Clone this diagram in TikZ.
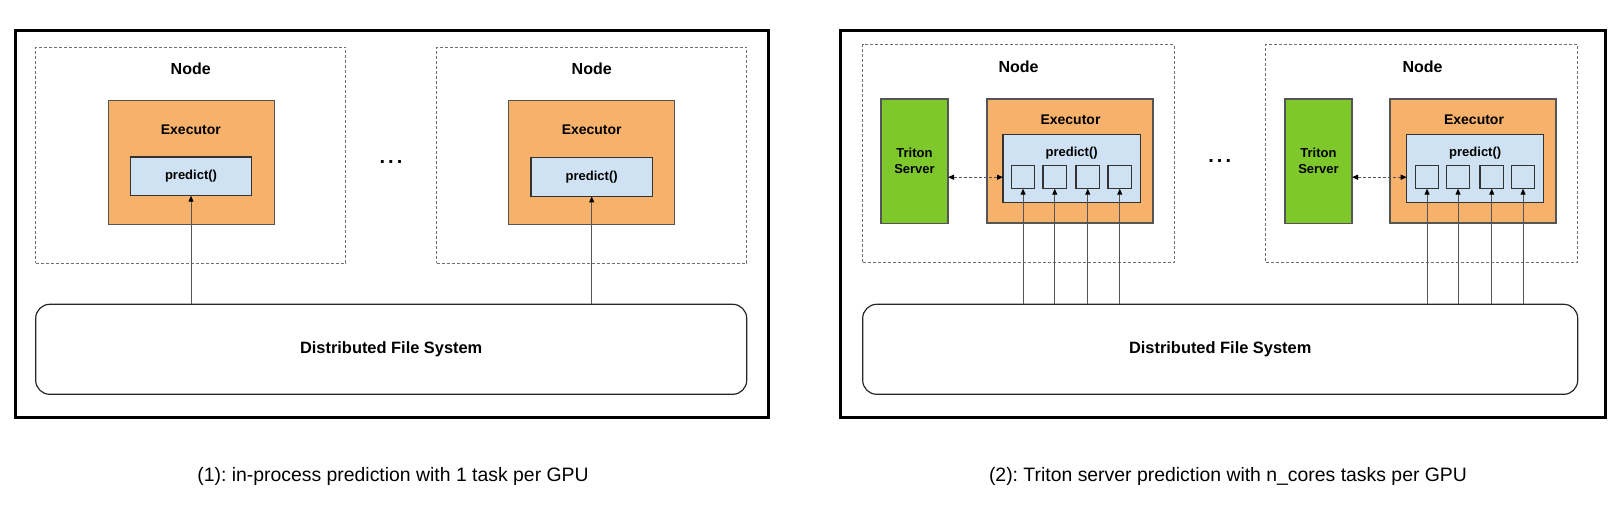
\documentclass[tikz,border=0pt]{standalone}
\usepackage{fontspec}
\setmainfont{Liberation Sans}
\usetikzlibrary{arrows.meta}
\definecolor{exorange}{HTML}{F6B26B}
\definecolor{prblue}{HTML}{CFE2F3}
\definecolor{trgreen}{HTML}{7EC82C}
\definecolor{edgegray}{HTML}{555555}
\definecolor{dashgray}{HTML}{707070}
\frenchspacing
\begin{document}
\begin{tikzpicture}[x=1pt,y=-1pt,
  every node/.style={inner sep=0pt,outer sep=0pt},
  frame/.style={draw=black,line width=3.2pt},
  nodebox/.style={draw=dashgray,line width=1pt,dash pattern=on 3pt off 2pt,anchor=north west},
  exbox/.style={draw=edgegray,line width=1.2pt,fill=exorange,anchor=north west,minimum width=166pt,minimum height=124pt},
  prbox/.style={draw=black!80,line width=1.2pt,fill=prblue,anchor=north west},
  core/.style={draw=black!80,line width=1.2pt,fill=prblue,anchor=north west,minimum width=23.5pt,minimum height=23pt},
  trbox/.style={draw=edgegray,line width=1.2pt,fill=trgreen,anchor=north west,minimum width=67pt,minimum height=124.3pt},
  dfsbox/.style={draw=black!85,line width=1.2pt,rounded corners=14pt,anchor=north west,minimum height=90pt},
  nodelabel/.style={font=\bfseries\fontsize{16}{19}\selectfont},
  exlabel/.style={font=\bfseries\fontsize{14}{17}\selectfont},
  prlabel/.style={font=\bfseries\fontsize{13}{16}\selectfont},
  trlabel/.style={font=\bfseries\fontsize{13}{16}\selectfont,align=center},
  dfslabel/.style={font=\bfseries\fontsize{16.4}{19}\selectfont},
  dotslabel/.style={font=\bfseries\fontsize{20}{24}\selectfont},
  caption/.style={font=\fontsize{19.4}{23}\selectfont},
  uparrow/.style={draw=edgegray,line width=1pt,-{Triangle[length=6pt,width=5pt,color=black]}},
  dasharrow/.style={draw=edgegray,line width=1.2pt,dash pattern=on 3pt off 2pt,{Triangle[length=6pt,width=5pt,color=black]}-{Triangle[length=6pt,width=5pt,color=black]}}
]
\useasboundingbox (0,0) rectangle (1620,517);

% ---------- left panel ----------
\draw[frame] (15.3,30.3) rectangle (768.5,417.6);
\node[nodebox,minimum width=310pt,minimum height=216pt] (n1) at (35.7,47) {};
\node[nodebox,minimum width=310pt,minimum height=216pt] (n2) at (436.7,47) {};
\node[nodelabel] (n1t) at (190.7,68.3) {Node};
\node[nodelabel] (n2t) at (591.7,68.3) {Node};
\node[exbox] (e1) at (108.3,100.7) {};
\node[exbox] (e2) at (508.7,100.7) {};
\node[exlabel] (e1t) at (190.8,129.3) {Executor};
\node[exlabel] (e2t) at (591.7,129.3) {Executor};
\node[prbox,minimum width=121.4pt,minimum height=38.7pt] (p1) at (130.3,157) {};
\node[prbox,minimum width=121.4pt,minimum height=38.7pt] (p2) at (531,157.7) {};
\node[prlabel] (p1t) at (p1.center) {predict()};
\node[prlabel] (p2t) at (p2.center) {predict()};
\node[dotslabel] (dotsL) at (391,162) {.\hspace{3.1pt}.\hspace{3.1pt}.};
\node[dfsbox,minimum width=711pt] (d1) at (35.7,304.3) {};
\node[dfslabel] (d1t) at (d1.center) {Distributed File System};
\draw[uparrow] (d1.north -| p1.south) -- (p1.south);
\draw[uparrow] (d1.north -| p2.south) -- (p2.south);
\node[caption] (c1) at (393,476) {(1): in-process prediction with 1 task per GPU};

% ---------- right panel ----------
\draw[frame] (840.3,30.3) rectangle (1605.3,417.6);
\node[nodebox,minimum width=311.3pt,minimum height=218pt] (n3) at (862.7,44.3) {};
\node[nodebox,minimum width=311.6pt,minimum height=218pt] (n4) at (1265.7,44.3) {};
\node[nodelabel] (n3t) at (1018.6,66.7) {Node};
\node[nodelabel] (n4t) at (1422.5,66.7) {Node};
\node[trbox] (t3) at (881,99) {};
\node[trbox] (t4) at (1285,99) {};
\node[trlabel] (t3t) at (914.5,161) {Triton\\Server};
\node[trlabel] (t4t) at (1318.5,161) {Triton\\Server};
\node[exbox] (e3) at (987,99) {};
\node[exbox] (e4) at (1390,99) {};
\node[exlabel] (e3t) at (1070.5,120) {Executor};
\node[exlabel] (e4t) at (1474,120) {Executor};
\node[prbox,minimum width=137.3pt,minimum height=68pt] (p3) at (1003,134.3) {};
\node[prbox,minimum width=137pt,minimum height=68pt] (p4) at (1406.7,134.3) {};
\node[prlabel] (p3t) at (1071.7,152.7) {predict()};
\node[prlabel] (p4t) at (1475.2,152.7) {predict()};
\node[core] (s31) at (1011.3,165.7) {};
\node[core] (s32) at (1043,165.7) {};
\node[core] (s33) at (1076,165.7) {};
\node[core] (s34) at (1108,165.7) {};
\node[core] (s41) at (1415.3,165.7) {};
\node[core] (s42) at (1446.3,165.7) {};
\node[core] (s43) at (1480,165.7) {};
\node[core] (s44) at (1511.3,165.7) {};
\draw[dasharrow] (t3.east |- s31.west) -- (p3.west |- s31.west);
\draw[dasharrow] (t4.east |- s41.west) -- (p4.west |- s41.west);
\node[dotslabel] (dotsR) at (1219.7,160.7) {.\hspace{3.1pt}.\hspace{3.1pt}.};
\node[dfsbox,minimum width=715pt] (d2) at (862.7,304.3) {};
\node[dfslabel] (d2t) at (d2.center) {Distributed File System};
\foreach \s in {s31,s32,s33,s34,s41,s42,s43,s44}
  \draw[uparrow] (d2.north -| \s.south) -- (\s.south);
\node[caption] (c2) at (1228,476) {(2): Triton server prediction with n\_cores tasks per GPU};
\end{tikzpicture}
\end{document}
